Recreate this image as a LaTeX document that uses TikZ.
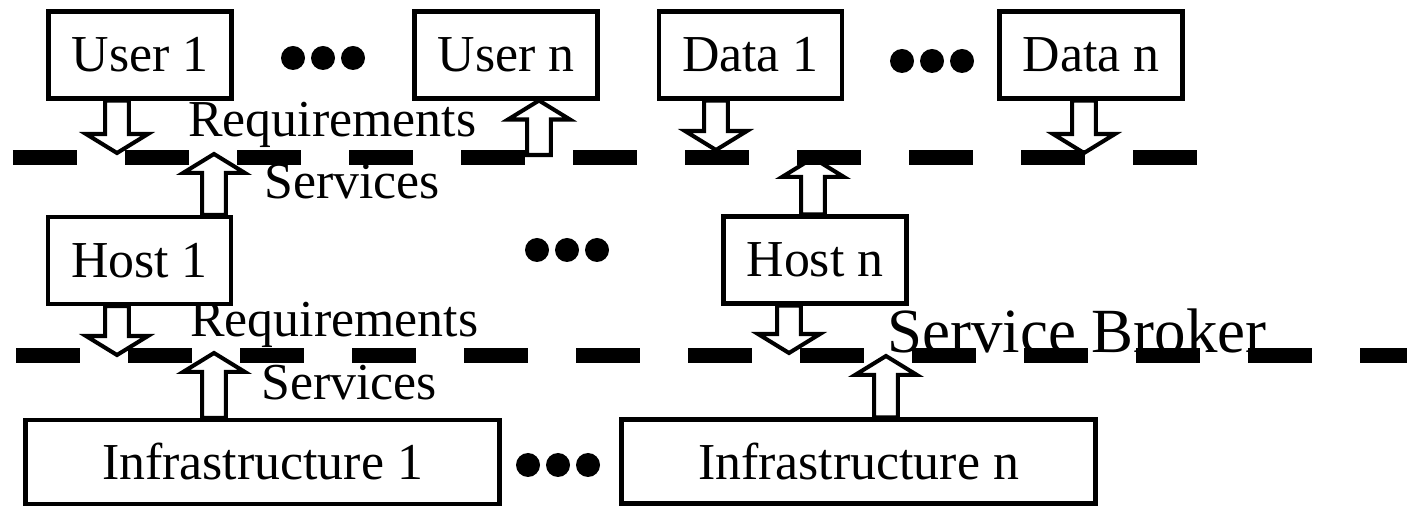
\documentclass[tikz,border=0pt]{standalone}
\usepackage{fontspec}
\setmainfont{Liberation Serif}
\usetikzlibrary{calc}

% hollow block arrow, vertical, from #1 (tail) to #2 (tip)
\newcommand{\blockarrow}[2]{%
  \draw[flow] let \p1=(#1), \p2=(#2), \n1={ifthenelse(\y2>\y1,1,-1)} in
    ({\x1-6.8pt},\y1) -- ({\x1-6.8pt},{\y2-(\n1)*10.8pt}) -- ({\x1-17.6pt},{\y2-(\n1)*10.8pt})
    -- (\x2,\y2) -- ({\x1+17.6pt},{\y2-(\n1)*10.8pt}) -- ({\x1+6.8pt},{\y2-(\n1)*10.8pt})
    -- ({\x1+6.8pt},\y1) -- cycle;}

\begin{document}
\begin{tikzpicture}[font=\fontsize{29.5}{34}\selectfont,
  unit/.style={draw, line width=2.3pt, fill=white, inner sep=0pt, minimum width=3.66cm, minimum height=1.74cm},
  infra/.style={unit, minimum width=9.48cm, minimum height=1.68cm},
  flow/.style={draw, line width=2.3pt, fill=white},
  broker/.style={line width=0.3cm, dash pattern=on 1.28cm off 0.96cm},
  flowtext/.style={anchor=base west, inner sep=0pt}]
  \useasboundingbox (0,0) rectangle (28.14,10.16);
  % users and data
  \node[unit] (user1) at (2.80,9.06) {User 1};
  \node[unit] (usern) at (10.12,9.06) {User n};
  \node[unit] (data1) at (15.01,9.06) {Data 1};
  \node[unit] (datan) at (21.82,9.06) {Data n};
  % hosts
  \node[unit] (host1) at (2.79,4.95) {Host 1};
  \node[unit] (hostn) at (16.30,4.96) {Host n};
  % infrastructures
  \node[infra] (infra1) at (5.25,0.92) {Infrastructure 1};
  \node[infra] (infran) at (17.17,0.93) {Infrastructure n};
  % the dots between the boxes
  \foreach \x/\y in {5.86/9.00, 18.04/8.94, 10.74/5.16, 10.56/0.86}
    \foreach \d in {0,0.6,1.2}
      \fill (\x+\d,\y) circle (0.24);
  % flow labels
  \node[flowtext] (req1) at (3.76,7.42) {Requirements};
  \node[flowtext] (srv1) at (5.28,6.18) {Services};
  \node[flowtext] (req2) at (3.80,3.42) {Requirements};
  \node[flowtext] (srv2) at (5.22,2.16) {Services};
  \node[flowtext, font=\fontsize{35.8}{40}\selectfont] (sb) at (17.74,3.10) {Service Broker};
  % arrow ends on the broker lines
  \coordinate (a1) at (2.34,7.10);
  \coordinate (a2) at (4.28,7.08);
  \coordinate (a3) at (10.78,7.06);
  \coordinate (a4) at (14.32,7.16);
  \coordinate (a5) at (21.68,7.10);
  \coordinate (a6) at (16.26,7.00);
  \coordinate (a7) at (2.34,3.06);
  \coordinate (a8) at (4.28,3.10);
  \coordinate (a9) at (15.78,3.10);
  \coordinate (a10) at (17.72,3.04);
  \blockarrow{a1 |- user1.south}{a1}
  \blockarrow{a2 |- host1.north}{a2}
  \blockarrow{a3}{a3 |- usern.south}
  \blockarrow{a4 |- data1.south}{a4}
  \blockarrow{a5 |- datan.south}{a5}
  \blockarrow{a6 |- hostn.north}{a6}
  \blockarrow{a7 |- host1.south}{a7}
  \blockarrow{a8 |- infra1.north}{a8}
  \blockarrow{a9 |- hostn.south}{a9}
  \blockarrow{a10 |- infran.north}{a10}
  % broker lines
  \coordinate (b1w) at (0.26,7.01);
  \coordinate (b1e) at (23.94,7.01);
  \coordinate (b2w) at (0.32,3.05);
  \coordinate (b2e) at (28.14,3.05);
  \draw[broker] (b1w) -- (b1e);
  \draw[broker] (b2w) -- (b2e);
\end{tikzpicture}
\end{document}
